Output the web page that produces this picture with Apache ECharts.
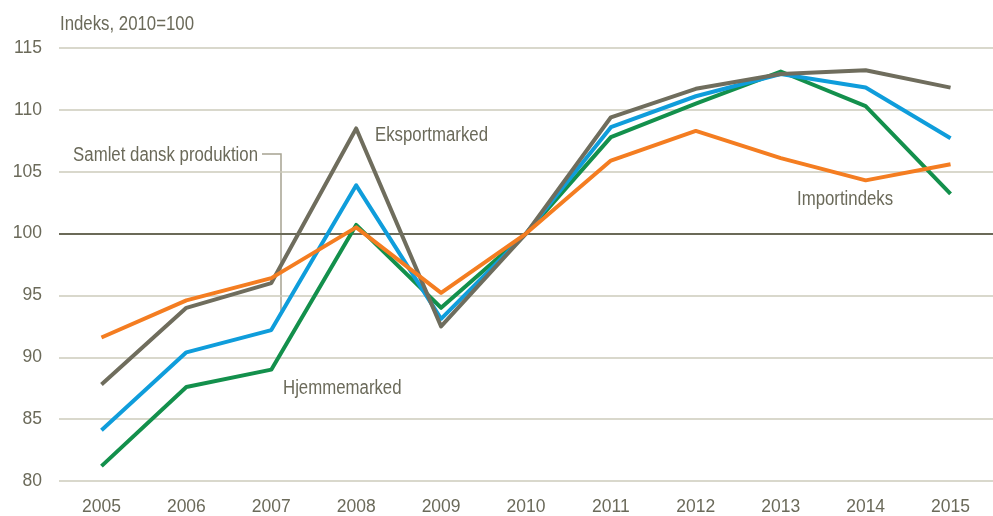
<!DOCTYPE html>
<html lang="da">
    <head>
        <meta charset="UTF-8" />
        <script type="text/javascript" src="https://cdn.jsdelivr.net/npm/echarts@6/dist/echarts.min.js"></script>
        <title>Indeks</title>
        <style type="text/css">
            html, body { margin: 0; padding: 0; background: #fff; }
            #chart { width: 993px; height: 516px; }
        </style>
    </head>
    <body>
        <div id="chart"></div>
        <script type="text/javascript">
            const years = ["2005", "2006", "2007", "2008", "2009", "2010", "2011", "2012", "2013", "2014", "2015"];
            const eksport = [87.8, 94.0, 96.0, 108.5, 92.5, 100, 109.4, 111.7, 112.9, 113.2, 111.8];
            const samlet = [84.1, 90.4, 92.2, 103.9, 93.1, 100, 108.6, 111.1, 112.9, 111.8, 107.7];
            const hjemme = [81.2, 87.6, 89.0, 100.7, 94.0, 100, 107.8, 110.5, 113.1, 110.3, 103.2];
            const importIdx = [91.6, 94.6, 96.4, 100.5, 95.2, 100, 105.9, 108.3, 106.1, 104.3, 105.6];
            const baseLine = 100;

            const font = "'Liberation Sans', Arial, sans-serif";
            const textColor = "#6b6a5a";

            let chart = echarts.init(document.getElementById("chart"));

            function line(name, data, color, z) {
                return {
                    name: name,
                    type: "line",
                    data: data,
                    symbol: "none",
                    z: z,
                    lineStyle: { color: color, width: 4, join: "round" },
                };
            }

            // narrow look: regular font squeezed horizontally
            function label(text, x, y, align) {
                return {
                    type: "text",
                    x: x,
                    y: y,
                    scaleX: 0.84,
                    style: {
                        text: text,
                        fill: textColor,
                        font: "20px " + font,
                        textAlign: align || "left",
                        textVerticalAlign: "middle",
                    },
                };
            }

            let option = {
                animation: false,
                grid: { left: 59, width: 960, top: 48, bottom: 34.5 },
                xAxis: {
                    type: "category",
                    data: years,
                    boundaryGap: true,
                    axisLine: { show: false },
                    axisTick: { show: false },
                    axisLabel: { color: textColor, fontFamily: font, fontSize: 17.5, margin: 17 },
                },
                yAxis: {
                    type: "value",
                    min: 80,
                    max: 115,
                    interval: 5,
                    axisLine: { show: false },
                    axisTick: { show: false },
                    axisLabel: { color: textColor, fontFamily: font, fontSize: 17.5, margin: 17 },
                    splitLine: { lineStyle: { color: "#cdcbbb", width: 1.5 } },
                },
                series: [
                    Object.assign(line("Eksportmarked", eksport, "#6f6d5d", 5), {
                        markLine: {
                            silent: true,
                            symbol: "none",
                            label: { show: false },
                            lineStyle: { color: "#6b6a58", width: 2, type: "solid" },
                            data: [{ yAxis: baseLine }],
                            z: 1,
                        },
                    }),
                    line("Samlet dansk produktion", samlet, "#0f9ddb", 4),
                    line("Hjemmemarked", hjemme, "#13904c", 3),
                    line("Importindeks", importIdx, "#f47d21", 6),
                ],
                graphic: [
                    label("Indeks, 2010=100", 60, 24),
                    label("Eksportmarked", 375, 135),
                    label("Samlet dansk produktion", 258, 155, "right"),
                    label("Hjemmemarked", 283, 388),
                    label("Importindeks", 797, 199),
                    {
                        type: "polyline",
                        shape: { points: [[262, 154], [281, 154], [281, 314]] },
                        style: { stroke: "#a6a391", lineWidth: 1.5, fill: null },
                        z: 0,
                    },
                ],
            };
            chart.setOption(option);
        </script>
    </body>
</html>
